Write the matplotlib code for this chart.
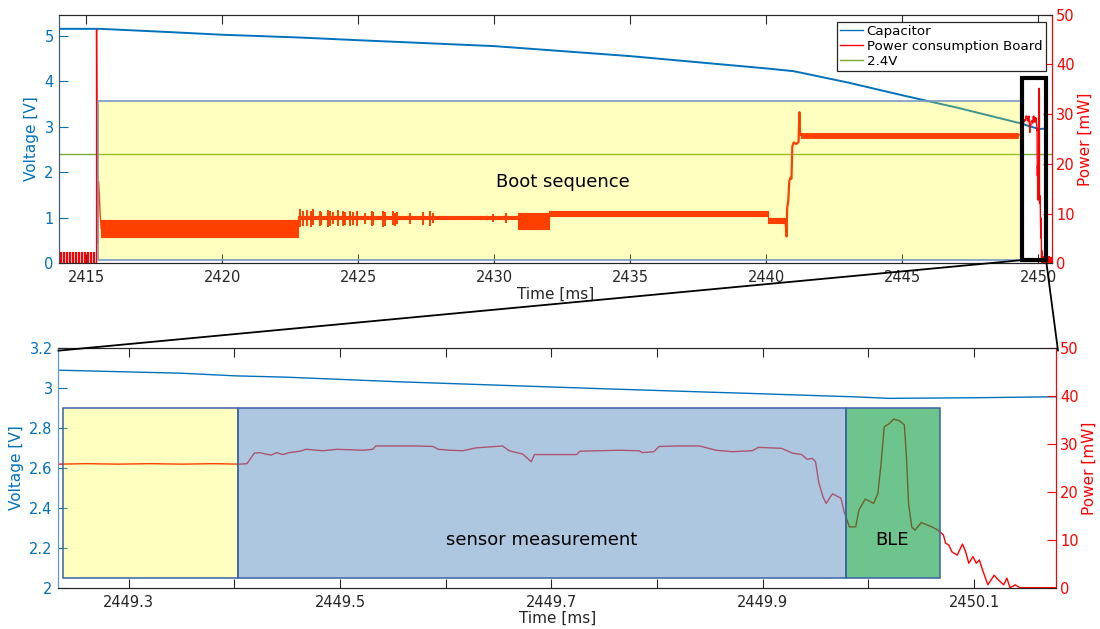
import numpy as np
import matplotlib.pyplot as plt
from matplotlib.patches import Rectangle, ConnectionPatch

# ---- data ----
# capacitor voltage, overview [ms, V]
cap_t = [2414.0, 2415.5, 2418.0, 2420.0, 2422.8, 2425.0, 2430.0, 2435.0,
         2440.0, 2441.0, 2443.0, 2445.0, 2447.0]
cap_v = [5.15, 5.15, 5.08, 5.02, 4.96, 4.90, 4.77, 4.55,
         4.28, 4.22, 3.97, 3.69, 3.42]

# capacitor voltage, zoomed window [ms, V]
capz_t = [2449.235, 2449.35, 2449.40, 2449.45, 2449.556, 2449.65, 2449.75,
          2449.85, 2449.887, 2449.966, 2449.985, 2450.02, 2450.10, 2450.178]
capz_v = [3.090, 3.075, 3.062, 3.055, 3.032, 3.015, 2.997,
          2.980, 2.974, 2.960, 2.957, 2.949, 2.952, 2.957]

# power before boot: small periodic pulses [ms, mW]
pulse_t = [2414.06, 2414.17, 2414.28, 2414.39, 2414.50, 2414.61, 2414.72,
           2414.83, 2414.94, 2415.05, 2415.16, 2415.27]
pulse_p = [2.3] * len(pulse_t)
tail_t = [2450.22, 2450.30, 2450.38, 2450.45]
tail_p = [1.5, 1.4, 1.5, 1.3]

# power at boot start
boot_t = [2415.33, 2415.37, 2415.37, 2415.40, 2415.44, 2415.47, 2415.50, 2415.54]
boot_p = [0.0, 0.0, 47.0, 4.0, 16.5, 14.0, 10.0, 7.0]

# noisy bands of the power trace (min / max envelope) [ms, mW]
band_t = [2415.54, 2422.78, 2422.78, 2430.87, 2430.87, 2432.00, 2432.00,
          2440.06, 2440.06, 2440.70]
band_lo = [5.3, 5.3, 8.9, 8.9, 6.8, 6.8, 9.5, 9.5, 8.2, 8.2]
band_hi = [8.7, 8.7, 9.6, 9.6, 10.2, 10.2, 10.5, 10.5, 9.1, 9.1]

spike_t = [2422.84, 2422.96, 2423.09, 2423.27, 2423.33, 2423.58, 2423.64,
           2423.88, 2423.94, 2424.07, 2424.25, 2424.43, 2424.50, 2424.68,
           2424.80, 2424.93, 2425.23, 2425.48, 2425.54, 2425.90, 2425.97,
           2426.27, 2426.33, 2426.40, 2426.89, 2427.38, 2427.62, 2427.74,
           2429.95, 2430.44]
spike_lo = [7.4, 7.6, 7.5, 7.4, 7.8, 7.5, 7.7, 7.4, 7.6, 7.9, 7.5, 7.6, 7.8,
            7.5, 7.7, 7.6, 8.0, 7.5, 7.7, 7.4, 7.6, 7.8, 7.5, 7.9, 8.0, 7.7,
            7.6, 8.1, 8.3, 8.2]
spike_hi = [11.0, 10.6, 10.8, 10.5, 10.9, 10.6, 10.4, 10.8, 10.5, 10.3, 10.7,
            10.5, 10.4, 10.6, 10.3, 10.5, 10.2, 10.6, 10.4, 10.5, 10.3, 10.6,
            10.2, 10.4, 10.1, 10.3, 10.6, 10.2, 10.0, 10.1]

ramp_t = [2440.70, 2440.74, 2440.76, 2440.80, 2440.84, 2440.88, 2440.92,
          2440.95, 2441.00, 2441.10, 2441.18, 2441.21, 2441.23, 2441.26]
ramp_p = [8.6, 5.4, 11.0, 12.5, 16.5, 17.2, 17.0, 23.5, 24.3, 24.0, 24.4,
          30.4, 26.5, 25.8]

flat_t = [2441.26, 2449.24]
flat_lo = [25.2, 25.2]
flat_hi = [26.3, 26.3]

# power, zoomed window [ms, mW]
pz_t = [2449.235, 2449.26, 2449.29, 2449.32, 2449.35, 2449.38, 2449.405,
        2449.412, 2449.419, 2449.424, 2449.430, 2449.435, 2449.440, 2449.446,
        2449.452, 2449.462, 2449.468, 2449.478, 2449.484, 2449.497, 2449.522,
        2449.531, 2449.534, 2449.553, 2449.572, 2449.588, 2449.593, 2449.604,
        2449.616, 2449.629, 2449.654, 2449.660, 2449.673, 2449.681, 2449.684,
        2449.698, 2449.724, 2449.727, 2449.764, 2449.783, 2449.786, 2449.797,
        2449.802, 2449.821, 2449.840, 2449.856, 2449.871, 2449.890, 2449.896,
        2449.918, 2449.928, 2449.937, 2449.942, 2449.947, 2449.950, 2449.953,
        2449.957, 2449.960, 2449.966, 2449.974, 2449.977, 2449.982, 2449.988,
        2449.991, 2449.997, 2450.005, 2450.009, 2450.012, 2450.015, 2450.020,
        2450.024, 2450.029, 2450.034, 2450.036, 2450.038, 2450.041, 2450.044,
        2450.050, 2450.060, 2450.066, 2450.071, 2450.073, 2450.076, 2450.079,
        2450.084, 2450.089, 2450.092, 2450.095, 2450.099, 2450.102, 2450.105,
        2450.108, 2450.113, 2450.119, 2450.123, 2450.128, 2450.131, 2450.134,
        2450.139, 2450.143, 2450.178]
pz_p = [25.8, 25.9, 25.8, 25.9, 25.8, 25.9, 25.8,
        25.9, 28.1, 28.2, 27.9, 27.7, 28.2, 27.8,
        28.2, 28.5, 28.9, 28.7, 28.6, 28.9, 28.7,
        28.9, 29.6, 29.6, 29.6, 29.5, 28.9, 28.7,
        28.6, 29.2, 29.6, 28.6, 27.9, 26.3, 27.8,
        27.8, 27.8, 28.5, 28.7, 28.6, 28.2, 28.4,
        29.5, 29.6, 29.6, 28.7, 28.4, 28.6, 29.3,
        29.1, 28.1, 27.8, 26.8, 27.0, 26.3, 22.0,
        19.0, 17.6, 19.6, 18.7, 15.9, 12.7, 12.7,
        16.2, 18.5, 17.6, 19.7, 26.0, 33.6, 34.3,
        35.2, 34.9, 34.0, 27.4, 17.6, 12.7, 12.0,
        13.6, 12.7, 12.0, 11.0, 9.3, 8.9, 7.5,
        6.8, 9.1, 7.5, 5.1, 6.5, 5.1, 5.8,
        3.7, 0.6, 2.6, 1.6, 0.6, 2.0, 0.0,
        0.6, 0.0, 0.0]

threshold_v = 2.4

BLUE = '#0072BD'
RED = '#FF0000'
GREEN = '#77AC30'
DARK = '#262626'

fig = plt.figure(figsize=(11, 6.29), dpi=100)

# ---------------- overview ----------------
ax1 = fig.add_axes([0.0539, 0.5814, 0.9025, 0.3952])
ax1r = ax1.twinx()

ax1.plot(cap_t + capz_t, cap_v + capz_v, color=BLUE, lw=1.4, label='Capacitor')
ax1.axhline(threshold_v, color=GREEN, lw=1.0)

red_kw = dict(color=RED, lw=1.0)
ax1r.vlines(pulse_t, 0, pulse_p, color=RED, lw=1.6)
ax1r.vlines(tail_t, 0, tail_p, color=RED, lw=1.6)
ax1r.plot(boot_t, boot_p, **red_kw)
ax1r.fill_between(band_t, band_lo, band_hi, color=RED, lw=0.8)
ax1r.vlines(spike_t, spike_lo, spike_hi, color=RED, lw=1.4)
ax1r.plot(ramp_t, ramp_p, color=RED, lw=1.6)
ax1r.fill_between(flat_t, flat_lo, flat_hi, color=RED, lw=0.6)
ax1r.plot(pz_t, pz_p, **red_kw)

boot_box = Rectangle((2415.43, 0.07), 2449.40 - 2415.43, 3.50,
                     facecolor=(1, 1, 0, 0.25), edgecolor='#7A98C4', lw=1.2,
                     transform=ax1.transData, zorder=4)
ax1r.add_patch(boot_box)
zoom_box = Rectangle((2449.40, 0.07), 0.88, 3.99, fill=False,
                     edgecolor='black', lw=3, transform=ax1.transData, zorder=6)
ax1r.add_patch(zoom_box)
ax1r.text(2432.5, 1.79, 'Boot sequence', transform=ax1.transData,
          ha='center', va='center', fontsize=13, zorder=7)

ax1.set_xlim(2414.0, 2450.5)
ax1.set_ylim(0, 5.46)
ax1r.set_ylim(0, 50)
ax1.set_xticks([2415, 2420, 2425, 2430, 2435, 2440, 2445, 2450])
ax1.set_yticks([0, 1, 2, 3, 4, 5])
ax1r.set_yticks([0, 10, 20, 30, 40, 50])

leg_handles = [plt.Line2D([], [], color=BLUE, lw=1),
               plt.Line2D([], [], color=RED, lw=1),
               plt.Line2D([], [], color=GREEN, lw=1)]
leg = ax1r.legend(leg_handles, ['Capacitor', 'Power consumption Board', '2.4V'],
                  loc='upper right', bbox_to_anchor=(0.9935, 0.972),
                  fontsize=9.6, handlelength=1.7, handletextpad=0.3,
                  labelspacing=0.15, borderpad=0.25, borderaxespad=0,
                  fancybox=False, framealpha=1, edgecolor=DARK)
leg.get_frame().set_linewidth(0.9)
leg.set_zorder(10)

# ---------------- zoomed window ----------------
ax2 = fig.add_axes([0.053, 0.0657, 0.907, 0.3806])
ax2r = ax2.twinx()

ax2.plot(capz_t, capz_v, color=BLUE, lw=1.0)
ax2r.plot(pz_t, pz_p, color=RED, lw=1.0)

phase_x = [2449.2383, 2449.4036, 2449.9785, 2450.0681]
phase_face = [(1, 1, 0, 0.25),
              (107 / 255, 154 / 255, 202 / 255, 0.55),
              (19 / 255, 160 / 255, 70 / 255, 0.62)]
for x0, x1, fc in zip(phase_x[:-1], phase_x[1:], phase_face):
    ax2r.add_patch(Rectangle((x0, 2.05), x1 - x0, 0.85, facecolor=fc,
                             edgecolor='#3A62A6', lw=1.1,
                             transform=ax2.transData, zorder=4))
ax2r.text(2449.6905, 2.24, 'sensor measurement', transform=ax2.transData,
          ha='center', va='center', fontsize=13, zorder=7)
ax2r.text(2450.022, 2.24, 'BLE', transform=ax2.transData,
          ha='center', va='center', fontsize=13, zorder=7)

ax2.set_xlim(2449.2335, 2450.1775)
ax2.set_ylim(2, 3.2)
ax2r.set_ylim(0, 50)
zt = [2449.3, 2449.4, 2449.5, 2449.6, 2449.7, 2449.8, 2449.9, 2450.0, 2450.1]
ax2.set_xticks(zt)
ax2.set_xticklabels(['2449.3', '', '2449.5', '', '2449.7', '', '2449.9', '',
                     '2450.1'])
ax2.set_yticks([2, 2.2, 2.4, 2.6, 2.8, 3, 3.2])
ax2.set_yticklabels(['2', '2.2', '2.4', '2.6', '2.8', '3', '3.2'])
ax2r.set_yticks([0, 10, 20, 30, 40, 50])

# ---------------- common styling ----------------
for ax, axr, lspine in [(ax1, ax1r, '#3C5A78'), (ax2, ax2r, '#5B9BD5')]:
    ax.tick_params(axis='x', direction='in', top=True, length=6.5,
                   width=0.8, colors=DARK, labelsize=10.5, pad=5)
    ax.tick_params(axis='y', direction='in', length=6.5, width=0.8,
                   colors=BLUE, labelsize=10.5, pad=4)
    axr.tick_params(axis='y', direction='in', length=6.5, width=0.8,
                    colors=RED, labelsize=10.5, pad=3)
    for s in ['top', 'bottom']:
        ax.spines[s].set_color(DARK)
        axr.spines[s].set_color(DARK)
    ax.spines['left'].set_color(lspine)
    axr.spines['left'].set_color(lspine)
    axr.spines['right'].set_color(RED)
    ax.set_xlabel('Time [ms]', fontsize=11, color=DARK, labelpad=1)
    ax.set_ylabel('Voltage [V]', fontsize=11, color=BLUE, labelpad=4)
    axr.set_ylabel('Power [mW]', fontsize=11, color=RED, labelpad=2)

# lines linking the zoom box to the lower panel
for xa, xb in [(2449.40, 0.0), (2450.28, 1.002)]:
    con = ConnectionPatch(xyA=(xa, 0.07), coordsA=ax1.transData,
                          xyB=(xb, 0.99), coordsB=ax2.transAxes,
                          color='black', lw=1.3)
    con.set_zorder(20)
    fig.add_artist(con)

fig.savefig('out.png', dpi=100)
